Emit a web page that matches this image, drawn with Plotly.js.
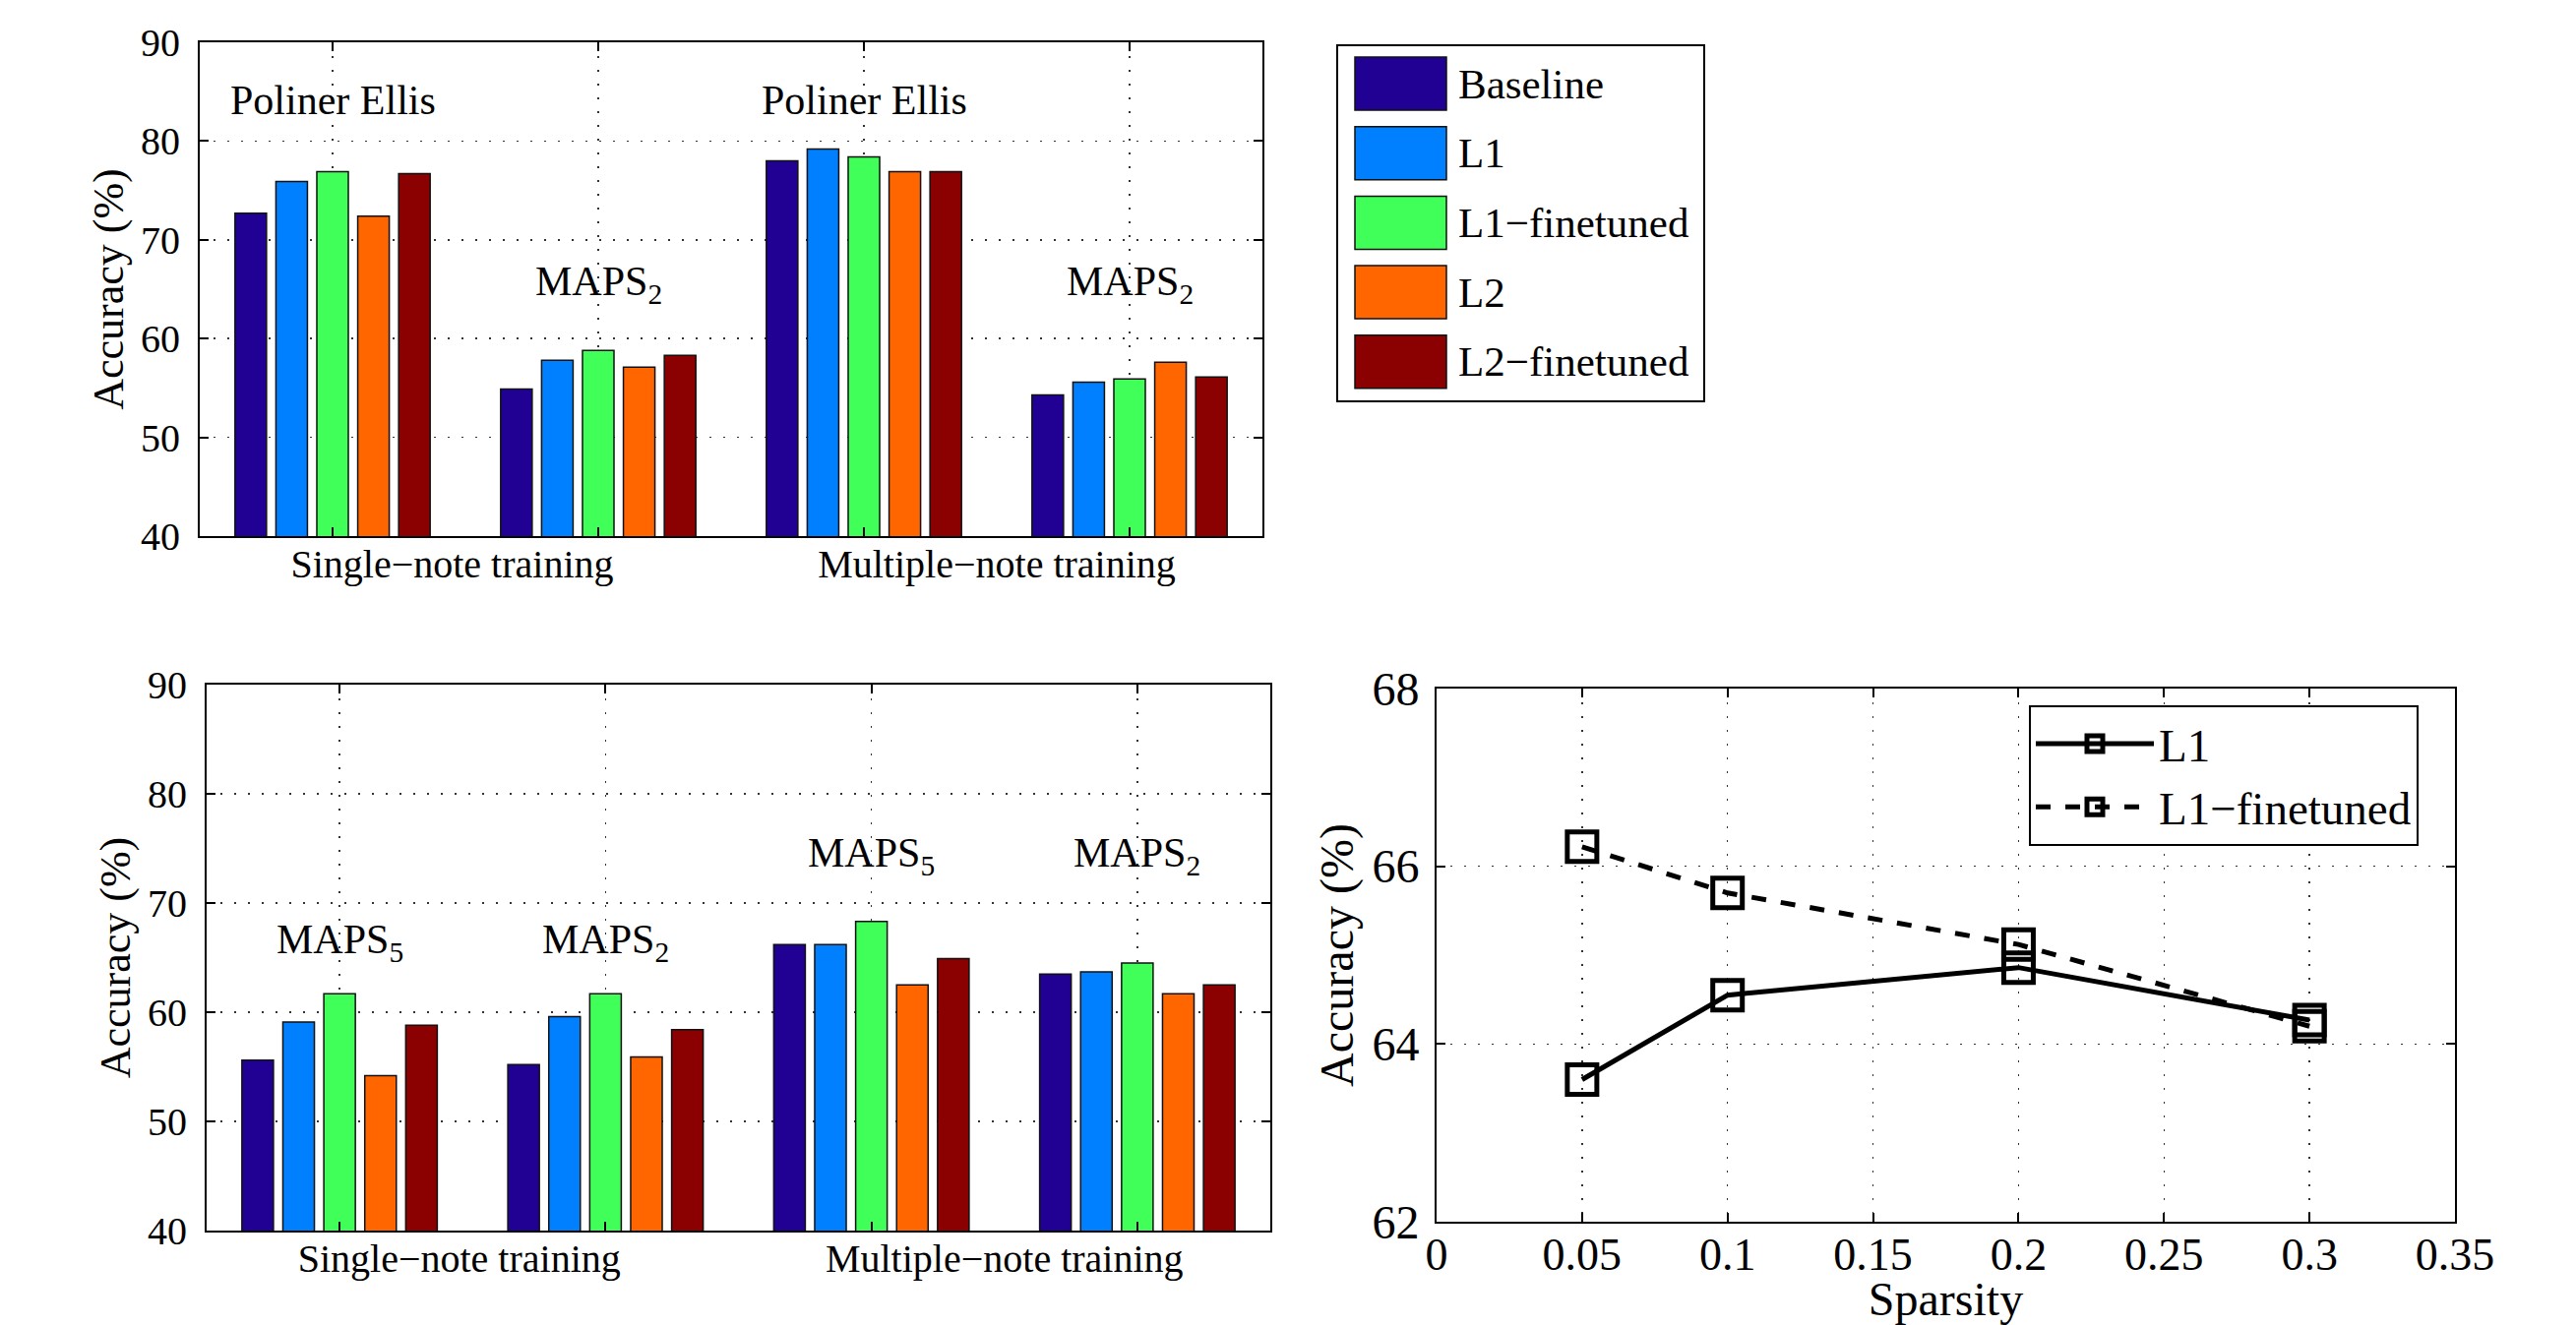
<!DOCTYPE html>
<html>
<head>
<meta charset="utf-8">
<script src="https://cdn.plot.ly/plotly-3.0.1.min.js"></script>
<style>html,body{margin:0;padding:0;background:#fff}#chart{width:2618px;height:1347px}</style>
</head>
<body>
<div id="chart"></div>
<script>
// ---------- data ----------
const groupPos = [1, 2, 3, 4];
const trainingLabels = ['Single\u2212note training', 'Multiple\u2212note training'];
const topDatasets = ['Poliner Ellis', 'MAPS<sub>2</sub>', 'Poliner Ellis', 'MAPS<sub>2</sub>'];
const bottomDatasets = ['MAPS<sub>5</sub>', 'MAPS<sub>2</sub>', 'MAPS<sub>5</sub>', 'MAPS<sub>2</sub>'];
const seriesNames = ['Baseline', 'L1', 'L1\u2212finetuned', 'L2', 'L2\u2212finetuned'];
const seriesColors = ['#210094', '#0080ff', '#40ff58', '#ff6600', '#8b0000'];

// top-left chart (Poliner Ellis / MAPS2)
const baselineTop = [72.7, 54.9, 78.0, 54.3];
const l1Top       = [75.9, 57.8, 79.2, 55.6];
const l1ftTop     = [76.9, 58.8, 78.4, 55.9];
const l2Top       = [72.4, 57.1, 76.9, 57.6];
const l2ftTop     = [76.7, 58.3, 76.9, 56.1];

// bottom-left chart (MAPS5 / MAPS2)
const baselineBot = [55.6, 55.2, 66.2, 63.5];
const l1Bot       = [59.1, 59.6, 66.2, 63.7];
const l1ftBot     = [61.7, 61.7, 68.3, 64.5];
const l2Bot       = [54.2, 55.9, 62.5, 61.7];
const l2ftBot     = [58.8, 58.4, 64.9, 62.5];

// bottom-right chart
const sparsity = [0.05, 0.1, 0.2, 0.3];
const l1Acc    = [63.6, 64.55, 64.86, 64.27];
const l1ftAcc  = [66.22, 65.7, 65.12, 64.2];
const lineNames = ['L1', 'L1\u2212finetuned'];

// ---------- layout helpers ----------
const W = 2618, H = 1347;
const px = v => v / W;
const py = v => 1 - v / H;
const FONT = 'Liberation Serif, Times New Roman, serif';
const f = (size) => ({family: FONT, size: size, color: '#000'});

const topSeries = [baselineTop, l1Top, l1ftTop, l2Top, l2ftTop];
const botSeries = [baselineBot, l1Bot, l1ftBot, l2Bot, l2ftBot];

const traces = [];
topSeries.forEach((vals, i) => traces.push({
  type: 'bar', x: groupPos, y: vals, name: seriesNames[i], xaxis: 'x', yaxis: 'y',
  marker: {color: seriesColors[i], line: {color: '#111', width: 1.5}}, showlegend: false
}));
botSeries.forEach((vals, i) => traces.push({
  type: 'bar', x: groupPos, y: vals, name: seriesNames[i], xaxis: 'x2', yaxis: 'y2',
  marker: {color: seriesColors[i], line: {color: '#111', width: 1.5}}, showlegend: false
}));
traces.push({
  type: 'scatter', mode: 'lines+markers', x: sparsity, y: l1Acc, name: lineNames[0],
  xaxis: 'x3', yaxis: 'y3', line: {color: '#000', width: 5},
  marker: {symbol: 'square-open', size: 30, color: '#000', line: {width: 5, color: '#000'}}
});
traces.push({
  type: 'scatter', mode: 'lines+markers', x: sparsity, y: l1ftAcc, name: lineNames[1],
  xaxis: 'x3', yaxis: 'y3', line: {color: '#000', width: 5, dash: 'dash'},
  marker: {symbol: 'square-open', size: 30, color: '#000', line: {width: 5, color: '#000'}}
});

const gridStyle = {showgrid: true, gridcolor: '#333', gridwidth: 1.5, griddash: '2px,12px'};
const frame = {showline: true, linecolor: '#000', linewidth: 2, mirror: 'ticks', zeroline: false,
               ticks: 'inside', ticklen: 9, tickwidth: 2, tickcolor: '#000'};

function barX(domain) {
  return Object.assign({}, frame, {
    domain: domain, range: [0.5, 4.5], tickmode: 'array', tickvals: [1.45, 3.5], ticktext: trainingLabels,
    ticks: '', showgrid: false, tickfont: f(40), ticklabelstandoff: -8,
    minor: Object.assign({tickmode: 'array', tickvals: groupPos, ticks: 'inside', ticklen: 9, tickwidth: 2, tickcolor: '#000'}, gridStyle)
  });
}
function barY(domain, anchor) {
  return Object.assign({}, frame, gridStyle, {
    domain: domain, anchor: anchor, range: [40, 90], dtick: 10, tickfont: f(40),
    ticklabelstandoff: 10,
    title: {text: 'Accuracy (%)', font: f(44), standoff: 4}
  });
}

const annotations = [];
groupPos.forEach((g, i) => {
  const isPE = topDatasets[i].indexOf('Poliner') === 0;
  annotations.push({xref: 'x', yref: 'y', x: g, y: isPE ? 84.1 : 65.5, text: topDatasets[i],
    showarrow: false, font: f(42), xanchor: 'center', yanchor: 'middle'});
  annotations.push({xref: 'x2', yref: 'y2', x: g, y: i < 2 ? 66.4 : 74.3, text: bottomDatasets[i],
    showarrow: false, font: f(42), xanchor: 'center', yanchor: 'middle'});
});

// custom legend for the bar charts (large swatches)
const shapes = [{type: 'rect', xref: 'paper', yref: 'paper', x0: px(1359), x1: px(1732), y0: py(408), y1: py(46),
  line: {color: '#000', width: 2}, fillcolor: 'rgba(0,0,0,0)', layer: 'above'}];
seriesNames.forEach((n, i) => {
  const top = 58 + i * 70.7;
  shapes.push({type: 'rect', xref: 'paper', yref: 'paper', x0: px(1377), x1: px(1470), y0: py(top + 54), y1: py(top),
    line: {color: '#111', width: 1.5}, fillcolor: seriesColors[i]});
  annotations.push({xref: 'paper', yref: 'paper', x: px(1480), y: py(top + 27), text: n, showarrow: false,
    xanchor: 'left', yanchor: 'middle', font: f(43)});
});

const layout = {
  width: W, height: H, margin: {l: 0, r: 0, t: 0, b: 0},
  paper_bgcolor: '#fff', plot_bgcolor: '#fff',
  font: f(40),
  barmode: 'group', bargap: 0.23, bargroupgap: 0.23,
  xaxis: Object.assign(barX([px(203), px(1283)]), {anchor: 'y'}),
  yaxis: barY([py(545), py(43)], 'x'),
  xaxis2: Object.assign(barX([px(210), px(1291)]), {anchor: 'y2'}),
  yaxis2: barY([py(1251), py(696)], 'x2'),
  xaxis3: Object.assign({}, frame, gridStyle, {
    domain: [px(1460), px(2495)], anchor: 'y3', range: [0, 0.35], dtick: 0.05,
    tickfont: f(46), ticklabelstandoff: -8,
    title: {text: 'Sparsity', font: f(48), standoff: 6}
  }),
  yaxis3: Object.assign({}, frame, gridStyle, {
    domain: [py(1242), py(700)], anchor: 'x3', range: [62, 68], dtick: 2,
    tickfont: f(48), ticklabelstandoff: 6,
    title: {text: 'Accuracy (%)', font: f(48), standoff: 4}
  }),
  showlegend: true,
  legend: {x: px(2062), y: py(717), xanchor: 'left', yanchor: 'top', bgcolor: '#fff',
    bordercolor: '#000', borderwidth: 2, font: f(47), itemwidth: 120, tracegroupgap: 0},
  annotations: annotations,
  shapes: shapes
};

Plotly.newPlot('chart', traces, layout, {displayModeBar: false, staticPlot: true});
</script>
</body>
</html>
